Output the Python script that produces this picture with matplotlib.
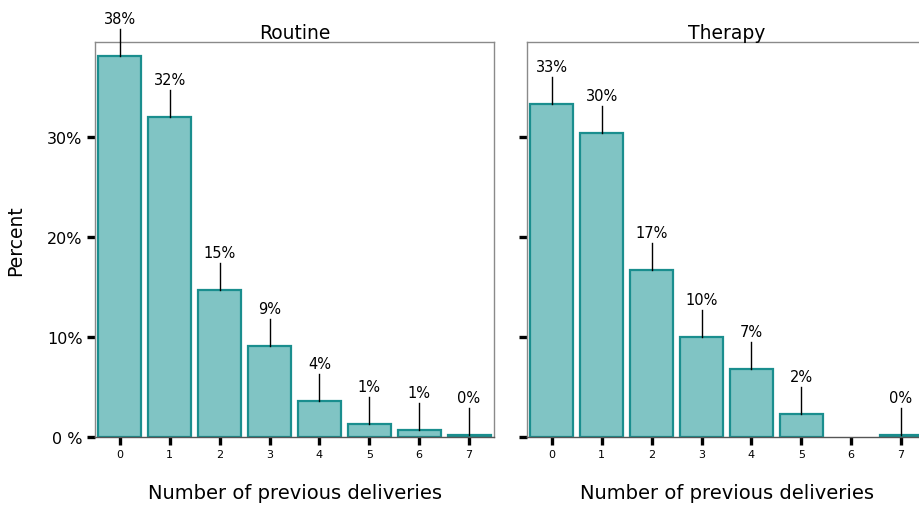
import matplotlib
matplotlib.use("Agg")
import matplotlib.pyplot as plt
import numpy as np

categories = [0, 1, 2, 3, 4, 5, 6, 7]
routine_vals = [38.1, 32.0, 14.7, 9.1, 3.6, 1.3, 0.7, 0.2]
routine_labels = ["38%", "32%", "15%", "9%", "4%", "1%", "1%", "0%"]
therapy_vals = [33.3, 30.4, 16.7, 10.0, 6.8, 2.3, 0.0, 0.2]
therapy_labels = ["33%", "30%", "17%", "10%", "7%", "2%", "", "0%"]
ytick_vals = [0, 10, 20, 30]
ytick_labels = ["0 %", "10%", "20%", "30%"]
panels = ["Routine", "Therapy"]

FILL = "#80C4C4"
EDGE = "#1A8E8E"
SPINE = "#8A8A8A"

fig = plt.figure(figsize=(9.19, 5.06), dpi=100)
W, H = 919, 506
ax_w, ax_h = 399, 395
bottom = (H - 438) / H
axL = fig.add_axes([95 / W, bottom, ax_w / W, ax_h / H])
axR = fig.add_axes([527 / W, bottom, ax_w / W, ax_h / H])

for ax, title, vals, labels, show_y in [
    (axL, panels[0], routine_vals, routine_labels, True),
    (axR, panels[1], therapy_vals, therapy_labels, False),
]:
    x = np.array(categories)
    v = np.array(vals)
    mask = v > 0
    ax.bar(x[mask], v[mask], width=0.86, color=FILL, edgecolor=EDGE, linewidth=1.6, zorder=2)
    for xi, vi, lab in zip(x, v, labels):
        if lab == "":
            continue
        ax.plot([xi, xi], [vi, vi + 2.7], color="black", lw=1.0, zorder=3, clip_on=False)
        ax.text(xi, vi + 2.7 + 0.3, lab, ha="center", va="bottom", fontsize=10.5,
                family="DejaVu Sans", clip_on=False)
    ax.set_xlim(-0.5, 7.5)
    ax.set_ylim(0, 39.5)
    ax.set_xticks(categories)
    ax.set_xticklabels([str(c) for c in categories], fontsize=8)
    ax.set_yticks(ytick_vals)
    if show_y:
        ax.set_yticklabels(ytick_labels, fontsize=11.5)
        ax.set_ylabel("Percent", fontsize=13.5, labelpad=16)
    else:
        ax.set_yticklabels([])
    ax.tick_params(axis="x", length=6, width=2.4, color="black", pad=3)
    ax.tick_params(axis="y", length=6, width=2.4, color="black", pad=3)
    for s in ["top", "right", "left"]:
        ax.spines[s].set_color(SPINE)
        ax.spines[s].set_linewidth(1.0)
    ax.spines["bottom"].set_color("#555555")
    ax.spines["bottom"].set_linewidth(1.0)
    ax.set_title(title, fontsize=13.5, pad=1)
    ax.set_xlabel("Number of previous deliveries", fontsize=14, labelpad=17)

fig.savefig("out.png", dpi=100)
